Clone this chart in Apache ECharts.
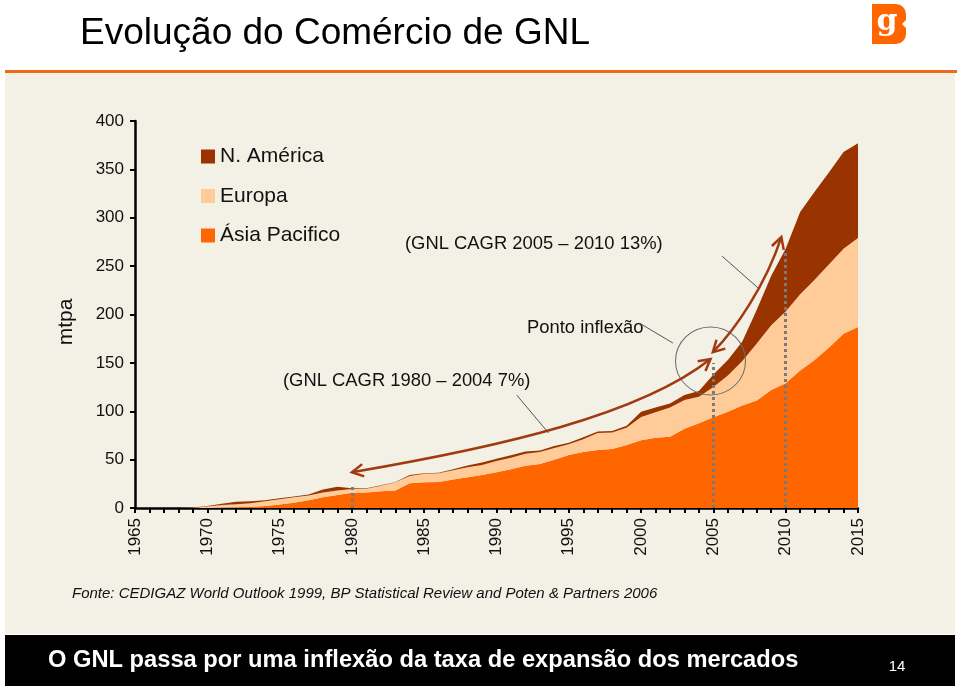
<!DOCTYPE html>
<html><head><meta charset="utf-8">
<script src="https://cdn.jsdelivr.net/npm/echarts@6/dist/echarts.min.js"></script>
<style>html,body{margin:0;padding:0;background:#fff}#c{width:960px;height:686px}</style>
</head><body><div id="c"></div>
<script>
const years = ['1965','1966','1967','1968','1969','1970','1971','1972','1973','1974','1975','1976','1977','1978','1979','1980','1981','1982','1983','1984','1985','1986','1987','1988','1989','1990','1991','1992','1993','1994','1995','1996','1997','1998','1999','2000','2001','2002','2003','2004','2005','2006','2007','2008','2009','2010','2011','2012','2013','2014','2015'];
const asiaPacifico = [0,0,0,0,0,0,0.2,0.5,1,2,3.5,5.5,8,11,13.5,15.8,16,17.2,18,25.5,26.5,27,29.5,31.7,34,37,40,43.7,45.5,50,54.8,58,60,61,65,70,72.5,73.7,82,87.5,93.7,99.5,106,111,122,129,142,153,166,180,187];
const europa = [0,0,0,0,0.3,1.5,2.8,3.5,4,5,5.5,5.5,5,5,4.5,3.8,4,5.8,8.5,7.5,9,8.8,9.5,10.3,10.5,11.5,12,12.3,12.5,12,11.2,13,17.5,17,18,24,26.5,30.3,29.6,27.5,31.3,37.5,46,59,67,74,79,83,86,88,92];
const nAmerica = [0,0,0,0,0.2,0.5,1.5,2.5,2,1,1,1,1,3,4,0.9,0.5,0.5,0.5,1,0.5,0.7,1,2,2.5,2.5,2.5,2.5,1.5,2,1.5,2,1.5,1.5,2,5.5,5,4,5.1,6,13,16,20,35,51,65,85,91,95,100,98];
const legendNames = ['N. América','Europa','Ásia Pacifico'];
const yTicks = {min:0, max:400, step:50};
const guideYears = ['1980','2005','2010'];
const guideTops = [24, 150, 266];

const FONT = "'Liberation Sans', Arial, Helvetica, sans-serif";
const C_NAM = '#993300', C_EUR = '#FFCC99', C_ASIA = '#FF6600';
const ARROW = '#A03A10';

const chart = echarts.init(document.getElementById('c'));

function areaSeries(name, data, color){
  return {name, type:'line', stack:'total', data, symbol:'none', showSymbol:false, smooth:false,
    silent:true, lineStyle:{width:0, color}, itemStyle:{color}, areaStyle:{color, opacity:1}, z:2};
}

const staticGraphics = [
  {type:'rect', z:-10, silent:true, shape:{x:5,y:73,width:950,height:561}, style:{fill:'#F3F0E5'}},
  {type:'rect', z:-9, silent:true, shape:{x:5,y:70,width:952,height:3}, style:{fill:'#EE6A1A'}},
  {type:'rect', z:-9, silent:true, shape:{x:5,y:635,width:950,height:51}, style:{fill:'#000'}},
  {type:'text', silent:true, style:{x:80,y:34,text:'Evolução do Comércio de GNL',font:'37px '+FONT,fill:'#000',verticalAlign:'middle'}},
  {type:'rect', silent:true, shape:{x:872,y:4,width:34,height:40,r:[0,10,10,0]}, style:{fill:'#FF6600'}},
  {type:'polygon', silent:true, shape:{points:[[907,19],[902,24],[907,29]]}, style:{fill:'#fff'}},
  {type:'text', silent:true, style:{x:887,y:22,text:'g',font:'bold 30px "DejaVu Serif", serif',fill:'#fff',align:'center',verticalAlign:'middle'}},
  {type:'text', silent:true, x:66, y:322, rotation:Math.PI/2, style:{x:0,y:0,text:'mtpa',font:'21px '+FONT,fill:'#111',align:'center',verticalAlign:'middle'}},
  {type:'text', silent:true, style:{x:405,y:244,text:'(GNL CAGR 2005 – 2010 13%)',font:'18.4px '+FONT,fill:'#111',verticalAlign:'middle'}},
  {type:'text', silent:true, style:{x:527,y:328,text:'Ponto inflexão',font:'18.4px '+FONT,fill:'#111',verticalAlign:'middle'}},
  {type:'text', silent:true, style:{x:283,y:381,text:'(GNL CAGR 1980 – 2004 7%)',font:'18.4px '+FONT,fill:'#111',verticalAlign:'middle'}},
  {type:'text', silent:true, style:{x:72,y:594,text:'Fonte: CEDIGAZ World Outlook 1999, BP Statistical Review and Poten & Partners 2006',font:'italic 15px '+FONT,fill:'#111',verticalAlign:'middle'}},
  {type:'text', silent:true, style:{x:48,y:660,text:'O GNL passa por uma inflexão da taxa de expansão dos mercados',font:'bold 23.7px '+FONT,fill:'#fff',verticalAlign:'middle'}},
  {type:'text', silent:true, style:{x:897,y:667,text:'14',font:'15px '+FONT,fill:'#fff',align:'center',verticalAlign:'middle'}}
];

chart.setOption({
  backgroundColor:'#ffffff',
  animation:false,
  grid:{left:135, right:102, top:121, bottom:178, containLabel:false},
  legend:{data:legendNames, orient:'vertical', left:201, top:146, padding:0, itemWidth:14, itemHeight:14, itemGap:18.5,
    icon:'rect', selectedMode:false, textStyle:{fontSize:21, fontFamily:FONT, color:'#111', lineHeight:21}},
  xAxis:{type:'category', data:years, boundaryGap:false,
    axisLine:{lineStyle:{color:'#000', width:2.5}},
    axisTick:{show:true, interval:0, length:5, lineStyle:{color:'#000', width:2}},
    axisLabel:{interval:4, rotate:90, margin:10, color:'#111', fontSize:17, fontFamily:FONT},
    splitLine:{show:false}},
  yAxis:{type:'value', min:yTicks.min, max:yTicks.max, interval:yTicks.step,
    axisLine:{show:true, lineStyle:{color:'#000', width:2.5}},
    axisTick:{show:true, length:5, lineStyle:{color:'#000', width:2}},
    axisLabel:{margin:11, color:'#111', fontSize:17, fontFamily:FONT},
    splitLine:{show:false}},
  series:[
    areaSeries('Ásia Pacifico', asiaPacifico, C_ASIA),
    areaSeries('Europa', europa, C_EUR),
    areaSeries('N. América', nAmerica, C_NAM),
    {name:'guides', type:'line', data:[], symbol:'none', silent:true, z:3,
      markLine:{silent:true, symbol:['none','none'], label:{show:false}, animation:false,
        lineStyle:{color:'#7a7a7a', width:3, type:[3,3]},
        emphasis:{disabled:true},
        data: guideYears.map((y,i)=>[{coord:[y,0]},{coord:[y,guideTops[i]]}])}}
  ],
  graphic: staticGraphics
});

const x0 = chart.convertToPixel({xAxisIndex:0}, years[0]);
const x1 = chart.convertToPixel({xAxisIndex:0}, years[years.length-1]);
function P(yr, v){ return [x0 + (yr-1965)*(x1-x0)/50, chart.convertToPixel({yAxisIndex:0}, v)]; }
function head(tip, from){
  const dx = tip[0]-from[0], dy = tip[1]-from[1], L = Math.hypot(dx,dy);
  const ux = dx/L, uy = dy/L, len = 13, a = 0.5;
  const c = Math.cos(a), s = Math.sin(a);
  const b1 = [tip[0] - len*(ux*c - uy*s), tip[1] - len*(uy*c + ux*s)];
  const b2 = [tip[0] - len*(ux*c + uy*s), tip[1] - len*(uy*c - ux*s)];
  return {type:'polyline', silent:true, z:10, shape:{points:[b1, tip, b2]}, style:{stroke:ARROW, lineWidth:2.5, fill:null}};
}
function arrow(a){
  const f=P(...a.from), c1=P(...a.c1), c2=P(...a.c2), t=P(...a.to);
  return [
    {type:'bezierCurve', silent:true, z:10, shape:{x1:f[0],y1:f[1],cpx1:c1[0],cpy1:c1[1],cpx2:c2[0],cpy2:c2[1],x2:t[0],y2:t[1]}, style:{stroke:ARROW, lineWidth:2.5, fill:null}},
    head(f, c1), head(t, c2)
  ];
}
const arrow1 = {from:[1980,37], c1:[1990.2,63], c2:[1999.9,96], to:[2004.8,154]};
const arrow2 = {from:[2004.96,161], c1:[2006.5,184], c2:[2008.6,230], to:[2009.7,280]};
const leaders = [[[1999.9,191],[2002.2,170.5]], [[1991.4,116.7],[1993.6,77.5]], [[2005.6,260.3],[2008.1,227.3]]];
const ec = P(2004.8,152);
const dyn = [].concat(
  arrow(arrow1), arrow(arrow2),
  [{type:'circle', silent:true, z:9, x:ec[0], y:ec[1], scaleX:35/34, shape:{cx:0, cy:0, r:34}, style:{stroke:'#6b6b6b', lineWidth:1, fill:null}}],
  leaders.map(l=>{const a=P(...l[0]), b=P(...l[1]); return {type:'line', silent:true, z:9, shape:{x1:a[0],y1:a[1],x2:b[0],y2:b[1]}, style:{stroke:'#555', lineWidth:1}};})
);
chart.setOption({graphic: staticGraphics.concat(dyn)});
</script></body></html>
